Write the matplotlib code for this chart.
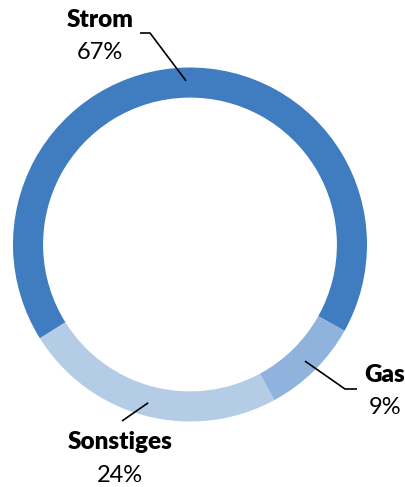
import numpy as np
import matplotlib
matplotlib.use('Agg')
from matplotlib import pyplot as plt

# Anteile
kategorien = ['Strom', 'Gas', 'Sonstiges']
anteile = [67, 9, 24]
farben = ['#3f7cc0', '#8fb3dc', '#b4cce6']

W, H = 406, 487
cx, cy, R = 190, 244.5, 177.0

def p(x, y):
    # Pixel -> Datenkoordinaten (Kreismitte = 0,0, Radius = 1)
    return (x - cx) / R, (cy - y) / R

fig = plt.figure(figsize=(W / 100, H / 100), dpi=100)
ax = fig.add_axes([0, 0, 1, 1])

wedges, _ = ax.pie(anteile, colors=farben, startangle=212, counterclock=False,
                   radius=1, wedgeprops=dict(width=0.17, edgecolor='none'))
ax.set_aspect('auto')
ax.set_xlim(-cx / R, (W - cx) / R)
ax.set_ylim(-(H - cy) / R, cy / R)
ax.axis('off')

# Beschriftungen: (Textmitte x, y Name, y Prozent), Knick/Ende der Linie
labels = {
    'Strom': ((100, 20, 52), [(150, 33), (140, 33)]),
    'Gas': ((385, 375, 408), [(345, 389), (357, 389)]),
    'Sonstiges': ((120, 442, 475), [(122, 421)]),
}

fnt = ['Lato', 'DejaVu Sans']
for w, name, val in zip(wedges, kategorien, anteile):
    mid = np.deg2rad((w.theta1 + w.theta2) / 2)
    ax_, ay_ = 0.925 * np.cos(mid), 0.925 * np.sin(mid)
    (tx, ty1, ty2), pts = labels[name]
    xs = [ax_] + [p(*q)[0] for q in pts]
    ys = [ay_] + [p(*q)[1] for q in pts]
    ax.plot(xs, ys, color='black', lw=1.2, solid_capstyle='butt')
    ax.text(*p(tx, ty1), name, ha='center', va='center', fontsize=17.5,
            fontweight='heavy', family=fnt)
    ax.text(*p(tx, ty2), f'{val}%', ha='center', va='center', fontsize=17,
            family=fnt)

fig.savefig('out.png', dpi=100)
